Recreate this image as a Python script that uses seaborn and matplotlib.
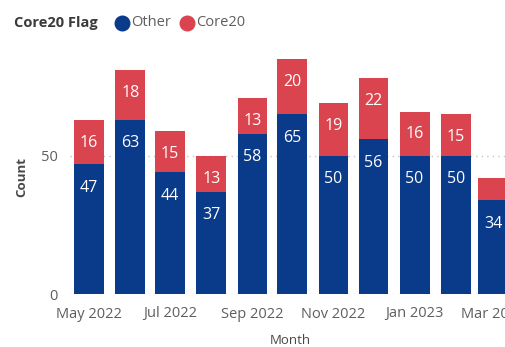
import matplotlib
matplotlib.use("Agg")
import matplotlib.pyplot as plt
import matplotlib.dates as mdates
from matplotlib.lines import Line2D
import pandas as pd
import seaborn as sns

# Monthly counts split by Core20 flag
months = ["2022-05-01", "2022-06-01", "2022-07-01", "2022-08-01", "2022-09-01",
          "2022-10-01", "2022-11-01", "2022-12-01", "2023-01-01", "2023-02-01",
          "2023-03-01"]
other = [47, 63, 44, 37, 58, 65, 50, 56, 50, 50, 34]
core20 = [16, 18, 15, 13, 13, 20, 19, 22, 16, 15, 8]

tick_months = ["2022-05-01", "2022-07-01", "2022-09-01", "2022-11-01",
               "2023-01-01", "2023-03-01"]
tick_labels = ["May 2022", "Jul 2022", "Sep 2022", "Nov 2022", "Jan 2023", "Mar 2023"]
y_ticks = [0, 50]

NAVY = "#0A3A8A"
RED = "#D9444F"
TICK = "#605E5C"
TITLE = "#4A4846"

sns.set_theme(style="white")
plt.rcParams["font.family"] = ["Open Sans", "DejaVu Sans"]

df = pd.DataFrame({"month": pd.to_datetime(months), "Other": other, "Core20": core20})
df["x"] = mdates.date2num(df["month"])
df["total"] = df["Other"] + df["Core20"]

W, H = 505, 347
fig = plt.figure(figsize=(W / 100, H / 100), dpi=100)
ax = fig.add_axes([70 / W, 53 / H, 435 / W, 235 / H])

# stacked bars: full total in red, Other drawn over it in navy
sns.barplot(data=df, x="x", y="total", native_scale=True, orient="x", color=RED,
            saturation=1, width=0.8, errorbar=None, linewidth=0, ax=ax)
sns.barplot(data=df, x="x", y="Other", native_scale=True, orient="x", color=NAVY,
            saturation=1, width=0.8, errorbar=None, linewidth=0, ax=ax)

start = mdates.date2num(pd.Timestamp("2022-05-01"))
end = mdates.date2num(pd.Timestamp("2023-03-01"))
ax.set_xlim(start - 14.3, end + 9)
ax.set_ylim(0, 85)

# data labels just inside the top of each segment
for xv, o, c in zip(df["x"], other, core20):
    ax.annotate(str(o), xy=(xv, o), xytext=(0, -17), textcoords="offset points",
                ha="center", va="center", color="white", fontsize=11.5)
    if c >= 10:
        ax.annotate(str(c), xy=(xv, o + c), xytext=(0, -16.5), textcoords="offset points",
                    ha="center", va="center", color="white", fontsize=11.5)

ax.set_xticks(mdates.date2num(pd.to_datetime(tick_months)))
ax.set_xticklabels(tick_labels)
ax.set_yticks(y_ticks)
ax.set_yticklabels([str(v) for v in y_ticks])
ax.tick_params(axis="both", length=0, labelsize=10.5, colors=TICK)
ax.tick_params(axis="x", pad=9)
ax.tick_params(axis="y", pad=9)

ax.yaxis.grid(True, linestyle=(0, (1, 3)), color="#C8C6C4", linewidth=1)
ax.xaxis.grid(False)
ax.set_axisbelow(True)
for s in ax.spines.values():
    s.set_visible(False)

ax.set_xlabel("")
ax.set_ylabel("")
fig.text(290 / W, 1 - 340 / H, "Month", ha="center", va="center",
         fontsize=9.5, color=TITLE)
fig.text(22 / W, 1 - 177 / H, "Count", ha="center", va="center", rotation=90,
         fontsize=9.5, color=TITLE, fontweight="bold")

# legend row
ly = 1 - 23 / H
fig.text(14 / W, ly, "Core20 Flag", ha="left", va="center", fontsize=10.5,
         color="#3B3A39", fontweight="bold")
for cx, col, lab, tx in [(122, NAVY, "Other", 131), (187, RED, "Core20", 196)]:
    fig.add_artist(Line2D([cx / W], [ly], marker="o", markersize=10.5, color=col,
                          linestyle="none", transform=fig.transFigure))
    fig.text(tx / W, ly, lab, ha="left", va="center", fontsize=10.5, color=TICK)

fig.savefig("out.png", dpi=100)
